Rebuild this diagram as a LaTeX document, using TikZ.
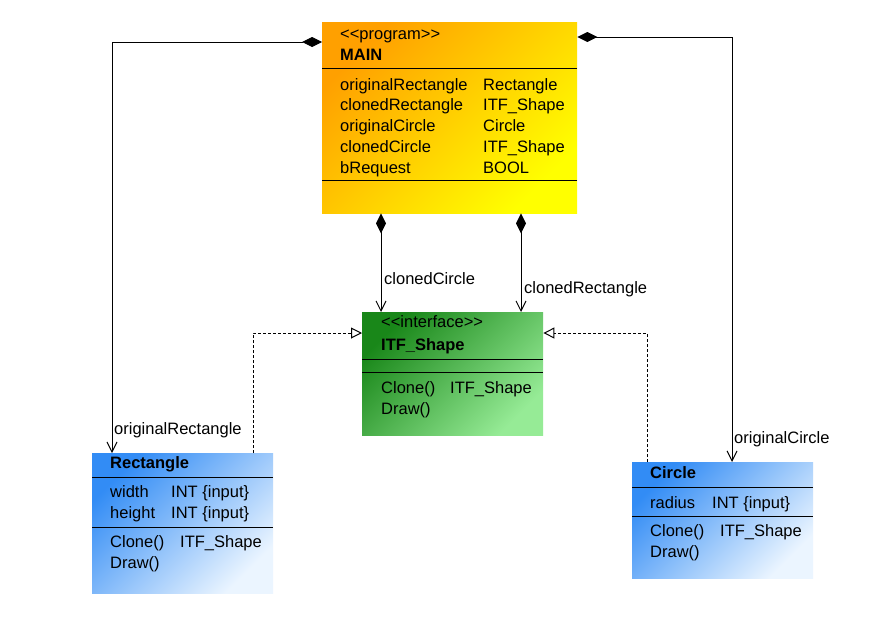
\documentclass[tikz,border=0pt]{standalone}
\usepackage{fontspec}
\setmainfont{Liberation Sans}
\usetikzlibrary{arrows.meta}
\newcommand\stereo[1]{\hbox{<}\hbox{<}#1\hbox{>}\hbox{>}}
\definecolor{orangeA}{RGB}{255,160,0}
\definecolor{yellowA}{RGB}{255,255,0}
\definecolor{greenA}{RGB}{25,135,25}
\definecolor{greenB}{RGB}{150,235,150}
\definecolor{blueA}{RGB}{50,140,245}
\definecolor{blueB}{RGB}{235,245,255}
\begin{document}
\begin{tikzpicture}[x=1pt,y=-1pt,
  txt/.style={font=\fontsize{16.5}{20}\selectfont, inner sep=0pt, anchor=base west},
  bold/.style={txt, font=\fontsize{16.5}{20}\selectfont\bfseries},
  umlbox/.style={rectangle, inner sep=0pt, anchor=north west},
  mainbox/.style={umlbox, top color=orangeA, bottom color=yellowA, shading angle=45},
  itfbox/.style={umlbox, top color=greenA, bottom color=greenB, shading angle=45},
  classbox/.style={umlbox, top color=blueA, bottom color=blueB, shading angle=45},
  sep/.style={line width=1pt},
  comp/.style={line width=1pt, {Straight Barb[length=10pt,width=10pt]}-{Diamond[length=20pt,width=10pt]}},
  real/.style={line width=1pt, dash pattern=on 3pt off 2pt, -{Triangle[open,length=11pt,width=11pt,fill=white]}},
  lbl/.style={txt}
]
\useasboundingbox (0,0) rectangle (882,624);
\fill[white] (0,0) rectangle (882,624);

% MAIN
\node[mainbox, minimum width=255pt, minimum height=191pt] (main) at (322,22) {};
\draw[sep] ([yshift=-46pt]main.north west) -- ([yshift=-46pt]main.north east);
\draw[sep] ([yshift=-158pt]main.north west) -- ([yshift=-158pt]main.north east);
\node[txt] (mst) at (340,39) {\stereo{program}};
\node[bold] (mname) at (340,60) {MAIN};
\node[txt] (ma1) at (340,90) {originalRectangle};
\node[txt] (mt1) at (483,90) {Rectangle};
\node[txt] (ma2) at (340,110.75) {clonedRectangle};
\node[txt] (mt2) at (483,110.75) {ITF\_Shape};
\node[txt] (ma3) at (340,131.5) {originalCircle};
\node[txt] (mt3) at (483,131.5) {Circle};
\node[txt] (ma4) at (340,152.25) {clonedCircle};
\node[txt] (mt4) at (483,152.25) {ITF\_Shape};
\node[txt] (ma5) at (340,173) {bRequest};
\node[txt] (mt5) at (483,173) {BOOL};

% ITF_Shape
\node[itfbox, minimum width=181pt, minimum height=123pt] (itf) at (362,312) {};
\draw[sep] ([yshift=-47pt]itf.north west) -- ([yshift=-47pt]itf.north east);
\draw[sep] ([yshift=-60pt]itf.north west) -- ([yshift=-60pt]itf.north east);
\node[txt] (ist) at (381,327) {\stereo{interface}};
\node[bold] (iname) at (381,350) {ITF\_Shape};
\node[txt] (io1) at (381,393) {Clone()};
\node[txt] (it1) at (450,393) {ITF\_Shape};
\node[txt] (io2) at (381,414) {Draw()};

% Rectangle
\node[classbox, minimum width=181pt, minimum height=140pt] (rect) at (92,453) {};
\draw[sep] ([yshift=-24pt]rect.north west) -- ([yshift=-24pt]rect.north east);
\draw[sep] ([yshift=-74pt]rect.north west) -- ([yshift=-74pt]rect.north east);
\node[bold] (rname) at (110,468) {Rectangle};
\node[txt] (ra1) at (110,497.5) {width};
\node[txt] (rt1) at (171,497.5) {INT \{input\}};
\node[txt] (ra2) at (110,518.5) {height};
\node[txt] (rt2) at (171,518.5) {INT \{input\}};
\node[txt] (ro1) at (110,547) {Clone()};
\node[txt] (rt3) at (180,547) {ITF\_Shape};
\node[txt] (ro2) at (110,568) {Draw()};

% Circle
\node[classbox, minimum width=181pt, minimum height=116pt] (circ) at (632,462) {};
\draw[sep] ([yshift=-25pt]circ.north west) -- ([yshift=-25pt]circ.north east);
\draw[sep] ([yshift=-54pt]circ.north west) -- ([yshift=-54pt]circ.north east);
\node[bold] (cname) at (650,478) {Circle};
\node[txt] (ca1) at (650,508) {radius};
\node[txt] (ct1) at (712,508) {INT \{input\}};
\node[txt] (co1) at (650,536.5) {Clone()};
\node[txt] (ct2) at (720,536.5) {ITF\_Shape};
\node[txt] (co2) at (650,557) {Draw()};

% connectors
\draw[comp] ([xshift=20pt]rect.north west) |- ([yshift=-20pt]main.north west);
\draw[comp] ([xshift=100pt]circ.north west) |- ([yshift=-15pt]main.north east);
\draw[comp] ([xshift=19pt]itf.north west) -- ([xshift=59pt]main.south west);
\draw[comp] ([xshift=159pt]itf.north west) -- ([xshift=199pt]main.south west);
\draw[real] ([xshift=161pt]rect.north west) |- ([yshift=-21pt]itf.north west);
\draw[real] ([xshift=15pt]circ.north west) |- ([yshift=-21pt]itf.north east);

% labels
\node[lbl] (l1) at (384,284) {clonedCircle};
\node[lbl] (l2) at (524,293) {clonedRectangle};
\node[lbl] (l3) at (114,434) {originalRectangle};
\node[lbl] (l4) at (734,443) {originalCircle};
\end{tikzpicture}
\end{document}
